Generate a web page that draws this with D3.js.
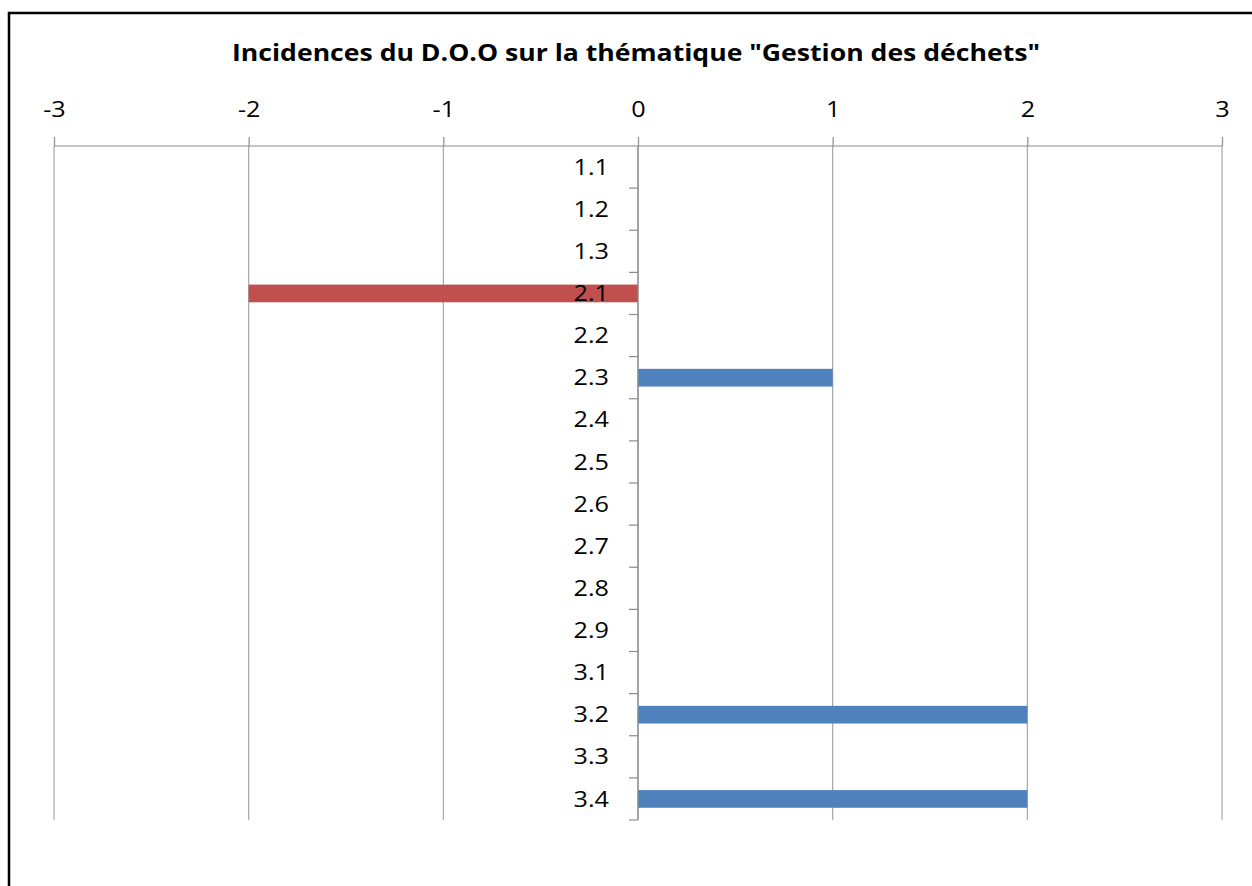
<!DOCTYPE html>
<html lang="fr">
<head>
  <meta charset="UTF-8">
  <script src="https://d3js.org/d3.v7.min.js"></script>
  <title>Gestion des déchets</title>
  <style>
    body { margin: 0; background: #fff; }
    text { font-family: "Open Sans", sans-serif; fill: #000; }
  </style>
</head>
<body>
  <svg width="1252" height="886"></svg>

  <script>
    // données
    var categories = ["1.1","1.2","1.3","2.1","2.2","2.3","2.4","2.5","2.6","2.7","2.8","2.9","3.1","3.2","3.3","3.4"]
    var values = [0, 0, 0, -2, 0, 1, 0, 0, 0, 0, 0, 0, 0, 2, 0, 2]
    var xTicks = [-3, -2, -1, 0, 1, 2, 3]
    var title = 'Incidences du D.O.O sur la thématique "Gestion des déchets"'

    var svg = d3.select("svg")
    var marge = { top: 146, bottom: 66, left: 54, right: 30 }
    var width = +svg.attr("width")
    var height = +svg.attr("height")
    var stretch = 1.2   // le graphique d'origine est étiré en largeur

    // cadre
    svg.append("rect")
      .attr("x", 9).attr("y", 13)
      .attr("width", 1300).attr("height", 1000)
      .attr("fill", "none")
      .attr("stroke", "#000")
      .attr("stroke-width", 2.5)

    svg.append("text")
      .attr("x", 232).attr("y", 61)
      .attr("font-size", 23)
      .attr("font-weight", "bold")
      .attr("textLength", 808)
      .attr("lengthAdjust", "spacingAndGlyphs")
      .text(title)

    var x = d3.scaleLinear()
      .domain([-3, 3])
      .range([marge.left, width - marge.right])

    var y = d3.scaleBand()
      .domain(categories)
      .range([marge.top, height - marge.bottom])
      .paddingInner(0.58)
      .paddingOuter(0.29)

    var yFull = d3.scaleBand()
      .domain(categories)
      .range([marge.top, height - marge.bottom])

    // grille verticale
    svg.append("g")
      .selectAll("line")
      .data(xTicks)
      .enter()
      .append("line")
      .attr("x1", function(d){ return x(d) })
      .attr("x2", function(d){ return x(d) })
      .attr("y1", marge.top)
      .attr("y2", height - marge.bottom)
      .attr("stroke", "#a6a6a6")
      .attr("stroke-width", 1.2)

    // axe du haut
    var xAxis = svg.append("g")
      .attr("transform", "translate(0," + marge.top + ")")
      .call(d3.axisTop(x).tickValues(xTicks).tickSize(9).tickFormat(d3.format("d")))
    xAxis.selectAll("path, line").attr("stroke", "#8c8c8c").attr("stroke-width", 1.2)
    xAxis.select(".domain").attr("d", "M" + x(-3) + ",0H" + x(3))
    xAxis.selectAll("text")
      .attr("y", null).attr("dy", null)
      .attr("font-size", 21)
      .style("font-family", "'Open Sans', sans-serif")
      .attr("transform", "translate(0,-29) scale(" + stretch + ",1)")
      .text(function(d){ return d < 0 ? "-" + Math.abs(d) : d })

    // barres
    svg.append("g")
      .selectAll("rect")
      .data(values)
      .enter()
      .append("rect")
      .attr("x", function(d){ return x(Math.min(0, d)) })
      .attr("y", function(d, i){ return y(categories[i]) })
      .attr("width", function(d){ return Math.abs(x(d) - x(0)) })
      .attr("height", y.bandwidth())
      .attr("fill", function(d){ return d < 0 ? "#c0504d" : "#4f81bd" })

    // axe des catégories à x = 0
    var ticksY = categories.map(function(c){ return yFull(c) }).concat([height - marge.bottom])
    var gy = svg.append("g")
    gy.append("line")
      .attr("x1", x(0)).attr("x2", x(0))
      .attr("y1", marge.top).attr("y2", height - marge.bottom)
      .attr("stroke", "#8c8c8c").attr("stroke-width", 1.2)
    gy.selectAll(".tk")
      .data(ticksY.slice(1))
      .enter()
      .append("line")
      .attr("x1", x(0) - 9).attr("x2", x(0))
      .attr("y1", function(d){ return d }).attr("y2", function(d){ return d })
      .attr("stroke", "#8c8c8c").attr("stroke-width", 1.2)
    gy.selectAll("text")
      .data(categories)
      .enter()
      .append("text")
      .attr("transform", function(d){
        return "translate(" + (x(0) - 29) + "," + (yFull(d) + yFull.bandwidth() / 2) + ") scale(" + stretch + ",1)"
      })
      .attr("dy", "0.36em")
      .attr("text-anchor", "end")
      .attr("font-size", 21)
      .text(function(d){ return d })
  </script>
</body>
</html>
